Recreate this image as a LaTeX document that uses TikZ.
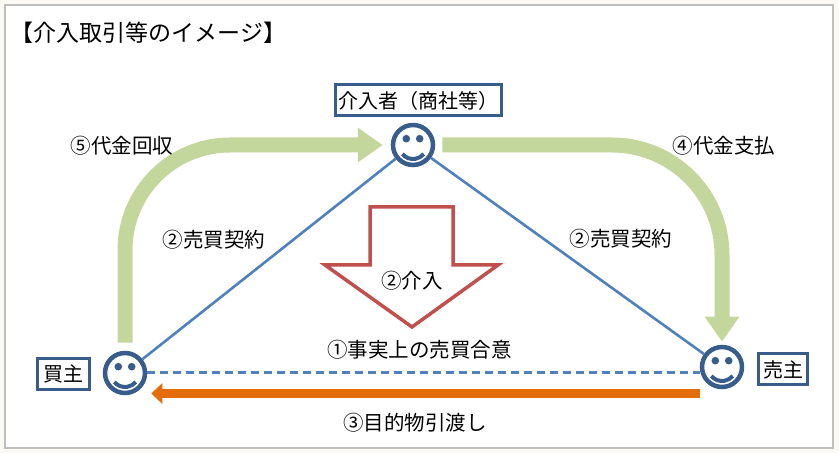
\documentclass[tikz,border=0pt]{standalone}
\usepackage{xcolor}
\usepackage{fontspec}
\setmainfont{Noto Sans CJK JP}
\usepackage{tikz}
\usetikzlibrary{arrows.meta, calc}
\definecolor{facec}{RGB}{56,93,138}
\definecolor{linec}{RGB}{79,129,189}
\definecolor{moneyc}{RGB}{195,214,155}
\definecolor{goodsc}{RGB}{228,108,10}
\definecolor{redc}{RGB}{192,80,77}
\definecolor{framec}{RGB}{191,191,191}
\definecolor{paperc}{RGB}{250,249,244}

\begin{document}
\begin{tikzpicture}[x=1pt, y=1pt,
    face/.style={circle, draw=facec, line width=4.5pt, minimum size=40pt, inner sep=0pt},
    namebox/.style={draw=facec, line width=3pt, inner sep=3pt, minimum height=31pt, font=\fontsize{20}{20}\selectfont},
    lbl/.style={font=\fontsize{20.5}{20.5}\selectfont},
    money/.style={draw=moneyc, line width=15pt, -{Triangle[length=25pt, width=33pt]}},
    contract/.style={draw=linec, line width=2.6pt},
    goods/.style={draw=goodsc, line width=9pt, -{Triangle[length=11pt, width=20pt]}}]
        \useasboundingbox (0,0) rectangle (839,453);
        \fill[paperc] (0,0) rectangle (839,453);
        \draw[framec, fill=white, line width=1.2pt] (5,5) rectangle (833,448);
        \node[anchor=west, font=\fontsize{23}{23}\selectfont] (title) at (7,420) {【介入取引等のイメージ】};

        \node[face] (mid) at (413,308) {};
        \node[face] (buyer) at (125,80) {};
        \node[face] (seller) at (722,86) {};
        \fill[facec] ($(mid)+(-6.7,6.3)$) circle (3.8); \fill[facec] ($(mid)+(6.7,6.3)$) circle (3.8);
        \draw[facec, line width=4pt] ($(mid)+(-10.7,-9)$) arc[start angle=220, end angle=320, radius=14];
        \fill[facec] ($(buyer)+(-6.7,6.3)$) circle (3.8); \fill[facec] ($(buyer)+(6.7,6.3)$) circle (3.8);
        \draw[facec, line width=4pt] ($(buyer)+(-10.7,-9)$) arc[start angle=220, end angle=320, radius=14];
        \fill[facec] ($(seller)+(-6.7,6.3)$) circle (3.8); \fill[facec] ($(seller)+(6.7,6.3)$) circle (3.8);
        \draw[facec, line width=4pt] ($(seller)+(-10.7,-9)$) arc[start angle=220, end angle=320, radius=14];

        \node[namebox] (midname) at (418,352.5) {介入者（商社等）};
        \node[namebox, minimum width=52pt] (buyername) at (63.5,79) {買主};
        \node[namebox, minimum width=49pt] (sellername) at (783,83.5) {売主};

        \draw[contract] (buyer) -- (mid);
        \draw[contract] (mid) -- (seller);
        \draw[contract, dash pattern=on 8pt off 5pt, line width=3pt] (buyer.east) -- (buyer.east -| seller.west);
        \coordinate (handy) at (0,59.5);
        \draw[goods, shorten >=4pt] (seller.west |- handy) -- (buyer.east |- handy);
        \draw[money, rounded corners=105pt] ([yshift=8pt]buyer.north) |- ([xshift=-8pt]mid.west);
        \draw[money, rounded corners=110pt] ([xshift=7pt]mid.east) -| ([yshift=3pt]seller.north);
        \draw[redc, line width=3.5pt, fill=white] (370,246) -- (453,246) -- (453,188) -- (498,188) -- (412,126) -- (325,188) -- (370,188) -- cycle;

        \node[lbl] (pay5) at (122,307) {⑤代金回収};
        \node[lbl] (pay4) at (724,307) {④代金支払};
        \node[lbl] (contl) at (214,213) {②売買契約};
        \node[lbl] (contr) at (621,214) {②売買契約};
        \node[lbl] (intv) at (412,172) {②介入};
        \node[lbl] (agree) at (419.5,103) {①事実上の売買合意};
        \node[lbl] (deliv) at (415,30) {③目的物引渡し};
    \end{tikzpicture}
\end{document}
